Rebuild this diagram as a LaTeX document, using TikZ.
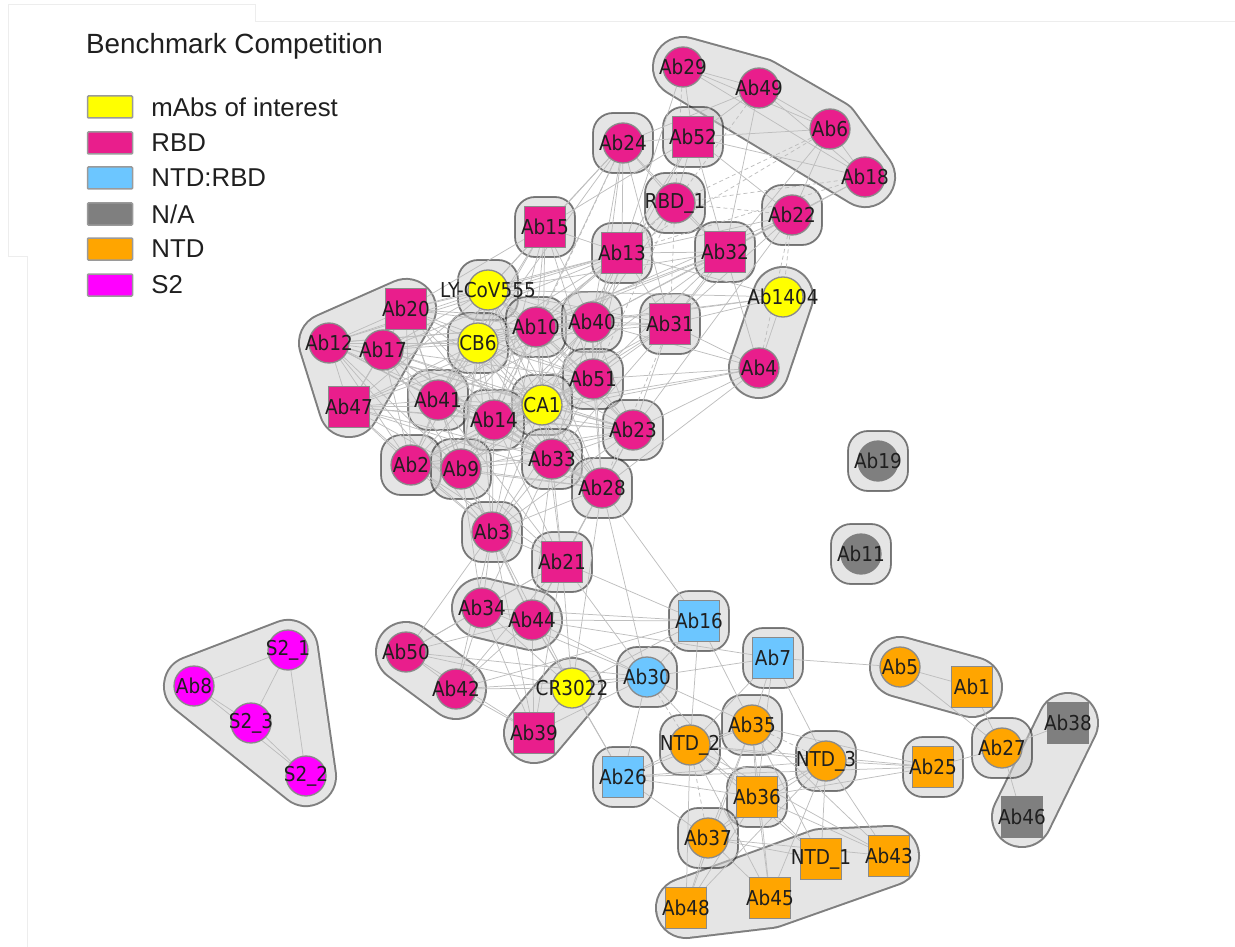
\documentclass[tikz,border=0pt]{standalone}
\usepackage{fontspec}
\newfontfamily\abfont[FakeStretch=0.9]{DejaVu Sans}
\newfontfamily\legfont{Liberation Sans}
\usetikzlibrary{positioning}
\definecolor{rbdpink}{HTML}{E91E8C}
\definecolor{abyellow}{HTML}{FFFF00}
\definecolor{ntdrbd}{HTML}{6CC6FF}
\definecolor{nagray}{HTML}{7F7F7F}
\definecolor{ntdorange}{HTML}{FFA500}
\definecolor{stwo}{HTML}{FF00FF}
\definecolor{abline}{HTML}{8A8A8A}
\definecolor{abtext}{HTML}{1F1F1F}
\definecolor{linkgray}{HTML}{BEBEBE}
\definecolor{framegray}{HTML}{EDEDED}
\definecolor{legline}{HTML}{9A9A9A}
\pgfdeclarelayer{halos}
\pgfdeclarelayer{links}
\pgfsetlayers{halos,links,main}
\newcommand{\abhalo}[1]{\filldraw[halo] (#1.center) +(-30,-30) rectangle +(30,30);}
\newcommand{\abhull}[1]{\begin{scope}[transparency group, opacity=0.5]
  \draw[hullout] #1 -- cycle; \draw[hullin] #1 -- cycle;
\end{scope}}

\begin{document}
\begin{tikzpicture}[x=1pt, y=-1pt,
  every label/.style={font=\abfont\fontsize{20.5}{20.5}\selectfont, text=abtext, inner sep=0pt}]
\useasboundingbox (0,0) rectangle (1235,947);
\tikzstyle{abdisc}=[circle, draw=abline, line width=1.3pt, minimum size=40pt, inner sep=0pt]
\tikzstyle{abbox}=[rectangle, draw=abline, line width=1.3pt, minimum size=41pt, inner sep=0pt]
\tikzstyle{halo}=[fill=black!20, draw=black, line width=1.8pt, opacity=0.5, rounded corners=20pt]
\tikzstyle{hullout}=[draw=black, fill=black, line width=62pt, line join=round, line cap=round]
\tikzstyle{hullin}=[draw=black!20, fill=black!20, line width=58pt, line join=round, line cap=round]
\tikzstyle{link}=[draw=linkgray, line width=0.75pt]
\tikzstyle{dlink}=[link, dash pattern=on 4pt off 3pt]
\tikzstyle{legbox}=[rectangle, draw=legline, line width=1.5pt, minimum width=45pt, minimum height=22pt, inner sep=0pt, rounded corners=1pt]
\tikzstyle{legtext}=[font=\legfont\fontsize{25.8}{25.8}\selectfont, text=abtext, inner sep=0pt]

% legend
\node[legtext, anchor=base west, font=\legfont\fontsize{27.8}{27.8}\selectfont] (title) at (86,54) {Benchmark Competition};
\node[legbox, fill=abyellow] (keyA) at (110,107) {};
\node[legtext, right=18pt of keyA] {mAbs of interest};
\node[legbox, fill=rbdpink] (keyB) at (110,143) {};
\node[legtext, right=18pt of keyB] {RBD};
\node[legbox, fill=ntdrbd] (keyC) at (110,178) {};
\node[legtext, right=18pt of keyC] {NTD:RBD};
\node[legbox, fill=nagray] (keyD) at (110,214) {};
\node[legtext, right=18pt of keyD] {N/A};
\node[legbox, fill=ntdorange] (keyE) at (110,249) {};
\node[legtext, right=18pt of keyE] {NTD};
\node[legbox, fill=stwo] (keyF) at (110,285) {};
\node[legtext, right=18pt of keyF] {S2};

% antibodies
\node[abdisc, fill=rbdpink, label=center:Ab29] (Ab29) at (683,67) {};
\node[abdisc, fill=rbdpink, label=center:Ab49] (Ab49) at (759,88) {};
\node[abdisc, fill=rbdpink, label=center:Ab6] (Ab6) at (830,129) {};
\node[abdisc, fill=rbdpink, label=center:Ab18] (Ab18) at (865,177) {};
\node[abbox, fill=rbdpink, label=center:Ab52] (Ab52) at (693,137) {};
\node[abdisc, fill=rbdpink, label=center:Ab24] (Ab24) at (623,143) {};
\node[abdisc, fill=rbdpink, label=center:RBD\_1] (RBD1) at (675,203) {};
\node[abdisc, fill=rbdpink, label=center:Ab22] (Ab22) at (792,215) {};
\node[abbox, fill=rbdpink, label=center:Ab15] (Ab15) at (545,227) {};
\node[abbox, fill=rbdpink, label=center:Ab13] (Ab13) at (622,253) {};
\node[abbox, fill=rbdpink, label=center:Ab32] (Ab32) at (725,252) {};
\node[abdisc, fill=abyellow, label=center:LY-CoV555] (LY) at (488,290) {};
\node[abdisc, fill=abyellow, label=center:Ab1404] (Ab1404) at (783,297) {};
\node[abbox, fill=rbdpink, label=center:Ab20] (Ab20) at (406,309) {};
\node[abdisc, fill=rbdpink, label=center:Ab12] (Ab12) at (329,343) {};
\node[abdisc, fill=rbdpink, label=center:Ab17] (Ab17) at (383,350) {};
\node[abdisc, fill=abyellow, label=center:CB6] (CB6) at (478,343) {};
\node[abdisc, fill=rbdpink, label=center:Ab10] (Ab10) at (536,327) {};
\node[abdisc, fill=rbdpink, label=center:Ab40] (Ab40) at (592,322) {};
\node[abbox, fill=rbdpink, label=center:Ab31] (Ab31) at (670,324) {};
\node[abdisc, fill=rbdpink, label=center:Ab4] (Ab4) at (759,368) {};
\node[abbox, fill=rbdpink, label=center:Ab47] (Ab47) at (349,407) {};
\node[abdisc, fill=rbdpink, label=center:Ab41] (Ab41) at (438,400) {};
\node[abdisc, fill=rbdpink, label=center:Ab51] (Ab51) at (593,379) {};
\node[abdisc, fill=abyellow, label=center:CA1] (CA1) at (542,405) {};
\node[abdisc, fill=rbdpink, label=center:Ab14] (Ab14) at (494,420) {};
\node[abdisc, fill=rbdpink, label=center:Ab23] (Ab23) at (633,430) {};
\node[abdisc, fill=rbdpink, label=center:Ab2] (Ab2) at (411,465) {};
\node[abdisc, fill=rbdpink, label=center:Ab9] (Ab9) at (461,469) {};
\node[abdisc, fill=rbdpink, label=center:Ab33] (Ab33) at (552,459) {};
\node[abdisc, fill=rbdpink, label=center:Ab28] (Ab28) at (602,488) {};
\node[abdisc, fill=nagray, draw=nagray, label=center:Ab19] (Ab19) at (878,461) {};
\node[abdisc, fill=nagray, draw=nagray, label=center:Ab11] (Ab11) at (861,554) {};
\node[abdisc, fill=rbdpink, label=center:Ab3] (Ab3) at (492,532) {};
\node[abbox, fill=rbdpink, label=center:Ab21] (Ab21) at (562,562) {};
\node[abdisc, fill=rbdpink, label=center:Ab34] (Ab34) at (482,608) {};
\node[abdisc, fill=rbdpink, label=center:Ab44] (Ab44) at (532,620) {};
\node[abbox, fill=ntdrbd, label=center:Ab16] (Ab16) at (699,621) {};
\node[abdisc, fill=rbdpink, label=center:Ab50] (Ab50) at (406,652) {};
\node[abdisc, fill=rbdpink, label=center:Ab42] (Ab42) at (456,689) {};
\node[abdisc, fill=abyellow, label=center:CR3022] (CR3022) at (572,688) {};
\node[abdisc, fill=ntdrbd, label=center:Ab30] (Ab30) at (647,677) {};
\node[abbox, fill=ntdrbd, label=center:Ab7] (Ab7) at (773,658) {};
\node[abdisc, fill=ntdorange, label=center:Ab5] (Ab5) at (900,667) {};
\node[abbox, fill=ntdorange, label=center:Ab1] (Ab1) at (972,687) {};
\node[abbox, fill=rbdpink, label=center:Ab39] (Ab39) at (534,733) {};
\node[abbox, fill=ntdrbd, label=center:Ab26] (Ab26) at (623,777) {};
\node[abdisc, fill=ntdorange, label=center:NTD\_2] (NTD2) at (690,745) {};
\node[abdisc, fill=ntdorange, label=center:Ab35] (Ab35) at (752,725) {};
\node[abdisc, fill=ntdorange, label=center:NTD\_3] (NTD3) at (826,761) {};
\node[abbox, fill=ntdorange, label=center:Ab25] (Ab25) at (933,767) {};
\node[abdisc, fill=ntdorange, label=center:Ab27] (Ab27) at (1002,748) {};
\node[abbox, fill=nagray, draw=nagray, label=center:Ab38] (Ab38) at (1068,723) {};
\node[abbox, fill=nagray, draw=nagray, label=center:Ab46] (Ab46) at (1022,817) {};
\node[abbox, fill=ntdorange, label=center:Ab36] (Ab36) at (757,797) {};
\node[abdisc, fill=ntdorange, label=center:Ab37] (Ab37) at (708,838) {};
\node[abbox, fill=ntdorange, label=center:NTD\_1] (NTD1) at (821,859) {};
\node[abbox, fill=ntdorange, label=center:Ab43] (Ab43) at (889,856) {};
\node[abbox, fill=ntdorange, label=center:Ab48] (Ab48) at (686,908) {};
\node[abbox, fill=ntdorange, label=center:Ab45] (Ab45) at (770,898) {};
\node[abdisc, fill=stwo, label=center:Ab8] (Ab8) at (194,686) {};
\node[abdisc, fill=stwo, label=center:S2\_1] (S21) at (288,650) {};
\node[abdisc, fill=stwo, label=center:S2\_3] (S23) at (251,723) {};
\node[abdisc, fill=stwo, label=center:S2\_2] (S22) at (306,776) {};

% clusters
\begin{pgfonlayer}{halos}
\draw[framegray, line width=1pt] (8,256) -- (8,5) -- (255,5) -- (255,22) -- (1235,22);
\draw[framegray, line width=1pt] (8,256) -- (27,256) -- (27,947);
\abhull{(Ab29.center) -- (Ab49.center) -- (Ab6.center) -- (Ab18.center)}
\abhull{(Ab20.center) -- (Ab12.center) -- (Ab47.center)}
\abhull{(Ab1404.center) -- (Ab4.center)}
\abhull{(Ab34.center) -- (Ab44.center)}
\abhull{(Ab50.center) -- (Ab42.center)}
\abhull{(CR3022.center) -- (Ab39.center)}
\abhull{(Ab5.center) -- (Ab1.center)}
\abhull{(Ab38.center) -- (Ab46.center)}
\abhull{(Ab8.center) -- (S21.center) -- (S22.center)}
\abhull{(Ab48.center) -- (Ab45.center) -- (Ab43.center) -- (NTD1.center)}
\abhalo{Ab52} \abhalo{Ab24} \abhalo{RBD1} \abhalo{Ab22} \abhalo{Ab15} \abhalo{Ab13}
\abhalo{Ab32} \abhalo{LY} \abhalo{CB6} \abhalo{Ab10} \abhalo{Ab40} \abhalo{Ab31}
\abhalo{Ab41} \abhalo{Ab51} \abhalo{CA1} \abhalo{Ab14} \abhalo{Ab23} \abhalo{Ab2}
\abhalo{Ab9} \abhalo{Ab33} \abhalo{Ab28} \abhalo{Ab19} \abhalo{Ab11} \abhalo{Ab3}
\abhalo{Ab21} \abhalo{Ab16} \abhalo{Ab30} \abhalo{Ab7} \abhalo{Ab26} \abhalo{NTD2}
\abhalo{Ab35} \abhalo{NTD3} \abhalo{Ab25} \abhalo{Ab27} \abhalo{Ab36} \abhalo{Ab37}
\end{pgfonlayer}

% competition links
\begin{pgfonlayer}{links}
\draw[link] (Ab29) edge (Ab49) edge (Ab6) edge (Ab18) edge (Ab52) edge (Ab13) edge[dlink] (RBD1);
\draw[link] (Ab49) edge (Ab6) edge (Ab18) edge (Ab52) edge (Ab32) edge (Ab24) edge[dlink] (RBD1);
\draw[link] (Ab6) edge (Ab18) edge (Ab52) edge (Ab22) edge (Ab31) edge[dlink] (RBD1) edge[dlink] (Ab13);
\draw[link] (Ab18) edge (Ab52) edge (Ab22) edge (Ab32) edge[dlink] (RBD1) edge[dlink] (Ab13);
\draw[link] (Ab52) edge (Ab24) edge (RBD1) edge (Ab32) edge (Ab22) edge (Ab13) edge (Ab15) edge (Ab40);
\draw[link] (Ab24) edge (RBD1) edge (Ab15) edge (Ab13) edge (LY) edge (Ab10) edge (Ab40) edge (Ab51)
  edge (Ab31) edge (Ab32) edge (CB6) edge[dlink] (Ab14);
\draw[link] (RBD1) edge (Ab32) edge (Ab40) edge (Ab10) edge[dlink] (Ab13) edge[dlink] (Ab31)
  edge[dlink] (Ab51) edge[dlink] (Ab22);
\draw[link] (Ab22) edge (Ab32) edge (Ab31) edge (Ab13) edge (Ab40) edge (Ab10) edge (Ab23)
  edge[dlink] (Ab1404) edge[dlink] (Ab4);
\draw[link] (Ab32) edge (Ab13) edge (Ab31) edge (Ab40) edge (Ab10) edge (Ab51) edge (LY) edge (CB6)
  edge (Ab14) edge (Ab4);
\draw[link] (Ab15) edge (LY) edge (CB6) edge (Ab10) edge (Ab40) edge (Ab13) edge (Ab20) edge (Ab41)
  edge (CA1) edge (Ab14) edge (Ab51);
\draw[link] (Ab13) edge (LY) edge (CB6) edge (Ab10) edge (Ab40) edge (Ab51) edge (Ab20) edge (Ab17)
  edge (Ab31) edge (Ab1404) edge (CA1) edge (Ab41) edge (Ab12);
\draw[link] (Ab1404) edge (Ab4) edge (Ab31) edge (Ab40) edge (LY) edge (Ab10);
\draw[link] (Ab4) edge (Ab31) edge (Ab40) edge (Ab23) edge (Ab51) edge (Ab28) edge (Ab14) edge (CA1);
\draw[link] (Ab31) edge (Ab40) edge (Ab10) edge (Ab51) edge (Ab23) edge (CA1) edge (Ab14) edge (Ab33)
  edge (LY) edge (CB6) edge[dlink] (Ab28);
\draw[link] (LY) edge (CB6) edge (Ab10) edge (Ab40) edge (Ab20) edge (Ab17) edge (Ab12) edge (Ab47)
  edge (Ab41) edge (Ab14) edge (CA1) edge (Ab51) edge (Ab23) edge (Ab33) edge (Ab2) edge (Ab9) edge (Ab28);
\draw[link] (CB6) edge (Ab10) edge (Ab40) edge (Ab20) edge (Ab17) edge (Ab12) edge (Ab47) edge (Ab41)
  edge (Ab14) edge (CA1) edge (Ab51) edge (Ab23) edge (Ab33) edge (Ab2) edge (Ab9) edge (Ab28) edge (Ab3);
\draw[link] (Ab10) edge (Ab40) edge (Ab20) edge (Ab17) edge (Ab12) edge (Ab47) edge (Ab41) edge (Ab14)
  edge (CA1) edge (Ab51) edge (Ab23) edge (Ab33) edge (Ab2) edge (Ab9) edge (Ab28) edge (Ab3);
\draw[link] (Ab40) edge (Ab20) edge (Ab17) edge (Ab12) edge (Ab41) edge (Ab14) edge (CA1) edge (Ab51)
  edge (Ab23) edge (Ab33) edge (Ab9) edge (Ab28) edge (Ab47);
\draw[link] (Ab20) edge (Ab12) edge (Ab17) edge (Ab47) edge (Ab41) edge (Ab14) edge (CA1) edge (Ab51)
  edge (Ab2) edge (Ab9) edge (Ab33);
\draw[link] (Ab12) edge (Ab17) edge (Ab47) edge (Ab41) edge (Ab14) edge (CA1) edge (Ab2) edge (Ab9)
  edge (Ab33) edge (Ab23) edge (Ab3) edge (Ab28);
\draw[link] (Ab17) edge (Ab47) edge (Ab41) edge (Ab14) edge (CA1) edge (Ab2) edge (Ab9) edge (Ab33)
  edge (Ab51) edge (Ab23);
\draw[link] (Ab47) edge (Ab41) edge (Ab14) edge (CA1) edge (Ab2) edge (Ab9) edge (Ab33) edge (Ab3)
  edge (Ab23) edge (Ab28);
\draw[link] (Ab41) edge (Ab14) edge (CA1) edge (Ab51) edge (Ab23) edge (Ab2) edge (Ab9) edge (Ab33)
  edge (Ab28) edge (Ab3) edge (Ab21);
\draw[link] (Ab51) edge (CA1) edge (Ab14) edge (Ab23) edge (Ab33) edge (Ab28) edge (Ab9) edge (Ab2) edge (Ab3);
\draw[link] (CA1) edge (Ab14) edge (Ab23) edge (Ab33) edge (Ab28) edge (Ab2) edge (Ab9) edge (Ab3) edge (Ab21);
\draw[link] (Ab14) edge (Ab23) edge (Ab33) edge (Ab28) edge (Ab2) edge (Ab9) edge (Ab3) edge (Ab21);
\draw[link] (Ab23) edge (Ab33) edge (Ab28) edge (Ab2) edge (Ab9) edge (Ab3) edge (Ab21);
\draw[link] (Ab2) edge (Ab9) edge (Ab33) edge (Ab3) edge (Ab21) edge (Ab28);
\draw[link] (Ab9) edge (Ab33) edge (Ab3) edge (Ab21) edge (Ab28) edge (Ab34) edge (Ab44);
\draw[link] (Ab33) edge (Ab28) edge (Ab3) edge (Ab21) edge (Ab44) edge (Ab34);
\draw[link] (Ab28) edge (Ab3) edge (Ab21) edge (Ab16) edge (Ab30) edge (Ab44) edge (CR3022);
\draw[link] (Ab3) edge (Ab21) edge (Ab34) edge (Ab44) edge (Ab50) edge (Ab42) edge (CR3022) edge (Ab39);
\draw[link] (Ab21) edge (Ab34) edge (Ab44) edge (Ab42) edge (CR3022) edge (Ab39) edge (Ab30) edge (Ab16) edge (Ab50);
\draw[link] (Ab34) edge (Ab44) edge (Ab50) edge (Ab42) edge (CR3022) edge (Ab39) edge (Ab30) edge (Ab16);
\draw[link] (Ab44) edge (Ab50) edge (Ab42) edge (CR3022) edge (Ab39) edge (Ab16) edge (Ab30) edge (Ab7) edge (Ab26);
\draw[link] (Ab50) edge (Ab42) edge (CR3022) edge (Ab30) edge (Ab39);
\draw[link] (Ab42) edge (CR3022) edge (Ab39) edge (Ab30) edge (Ab16);
\draw[link] (CR3022) edge (Ab39) edge (Ab30) edge (Ab16) edge (Ab26);
\draw[link] (Ab39) edge (Ab30);
\draw[link] (Ab30) edge (Ab16) edge (Ab7) edge (Ab26) edge (Ab35) edge (Ab36) edge[dlink] (NTD2);
\draw[link] (Ab16) edge (NTD2) edge (Ab35);
\draw[link] (Ab7) edge (Ab5) edge (Ab35) edge (NTD2) edge (NTD3) edge (Ab36);
\draw[link] (Ab5) edge (Ab1) edge (Ab27);
\draw[link] (Ab1) edge (Ab27);
\draw[link] (Ab27) edge (Ab25) edge (Ab38) edge (Ab46);
\draw[link] (Ab25) edge (NTD3) edge (NTD2) edge (Ab35) edge (Ab36) edge (Ab26);
\draw[link] (NTD2) edge (Ab26) edge (Ab35) edge (Ab36) edge (NTD3) edge (Ab48) edge (Ab45) edge (NTD1)
  edge (Ab43) edge[dlink] (Ab37);
\draw[link] (Ab35) edge (Ab36) edge (Ab37) edge (Ab48) edge (Ab45) edge (NTD1) edge (Ab43) edge (Ab26)
  edge[dlink] (NTD3);
\draw[link] (NTD3) edge (Ab36) edge (Ab37) edge (NTD1) edge (Ab43) edge (Ab45) edge (Ab48) edge (Ab26);
\draw[link] (Ab36) edge (Ab37) edge (Ab45) edge (Ab48) edge (NTD1) edge (Ab43) edge (Ab26);
\draw[link] (Ab37) edge (Ab48) edge (Ab45) edge (NTD1) edge (Ab43) edge (Ab26);
\draw[link] (Ab8) edge (S21) edge (S23) edge (S22);
\draw[link] (S21) edge (S23) edge (S22);
\draw[link] (S23) edge (S22);
\end{pgfonlayer}
\end{tikzpicture}
\end{document}
